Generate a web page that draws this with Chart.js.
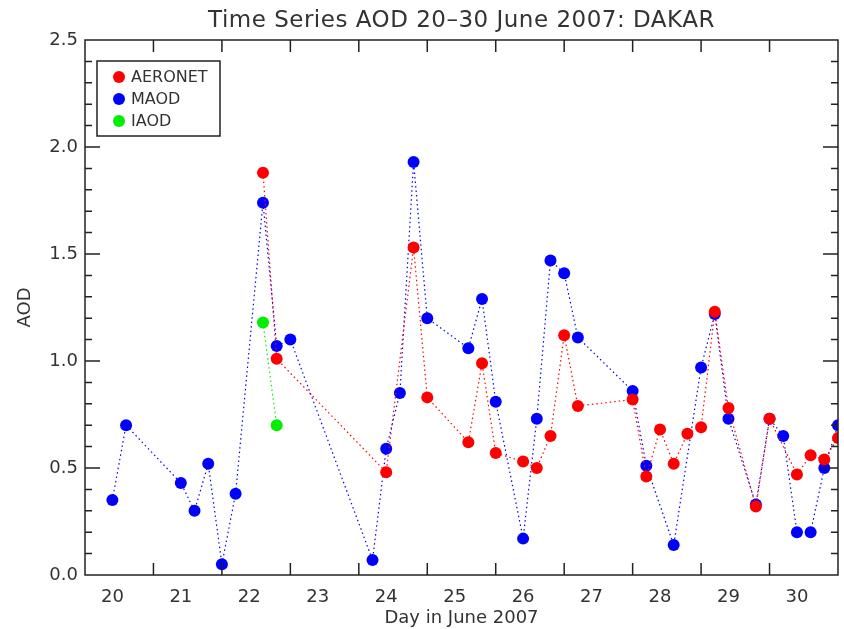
<!DOCTYPE html>
<html>
<head>
<meta charset="utf-8">
<script src="https://cdn.jsdelivr.net/npm/chart.js@4.4.0/dist/chart.umd.min.js"></script>
<style>
  html, body { margin: 0; padding: 0; background: #fff; }
</style>
</head>
<body>
<canvas id="aodChart" width="844" height="629"></canvas>
<script>
// day labels on the x axis, y tick values
const dayLabels = [20, 21, 22, 23, 24, 25, 26, 27, 28, 29, 30];
const aodTicks = [0.0, 0.5, 1.0, 1.5, 2.0, 2.5];

// AERONET
const aeronetDays = [22.2, 22.4, 24.0, 24.4, 24.6, 25.2, 25.4, 25.6, 26.0, 26.2, 26.4, 26.6, 26.8,
    27.6, 27.8, 28.0, 28.2, 28.4, 28.6, 28.8, 29.0, 29.4, 29.6, 30.0, 30.2, 30.4, 30.6];
const aeronetAod = [1.88, 1.01, 0.48, 1.53, 0.83, 0.62, 0.99, 0.57, 0.53, 0.50, 0.65, 1.12, 0.79,
    0.82, 0.46, 0.68, 0.52, 0.66, 0.69, 1.23, 0.78, 0.32, 0.73, 0.47, 0.56, 0.54, 0.64];

// MAOD
const maodDays = [20.0, 20.2, 21.0, 21.2, 21.4, 21.6, 21.8, 22.2, 22.4, 22.6, 23.8, 24.0, 24.2, 24.4,
    24.6, 25.2, 25.4, 25.6, 26.0, 26.2, 26.4, 26.6, 26.8, 27.6, 27.8, 28.2, 28.6, 28.8, 29.0, 29.4,
    29.6, 29.8, 30.0, 30.2, 30.4, 30.6];
const maodAod = [0.35, 0.70, 0.43, 0.30, 0.52, 0.05, 0.38, 1.74, 1.07, 1.10, 0.07, 0.59, 0.85, 1.93,
    1.20, 1.06, 1.29, 0.81, 0.17, 0.73, 1.47, 1.41, 1.11, 0.86, 0.51, 0.14, 0.97, 1.22, 0.73, 0.33,
    0.73, 0.65, 0.20, 0.20, 0.50, 0.70];

// IAOD
const iaodDays = [22.2, 22.4];
const iaodAod = [1.18, 0.70];

const chartTitle = 'Time Series AOD 20–30 June 2007: DAKAR';

const toPoints = (xs, ys) => xs.map((x, i) => ({ x: x, y: ys[i] }));

const FONT = '"DejaVu Sans", sans-serif';
const INK = '#333';

function series(label, color, xs, ys) {
    return {
        label: label,
        data: toPoints(xs, ys),
        borderColor: color,
        backgroundColor: color,
        borderWidth: 1.2,
        borderDash: [1.5, 3],
        pointRadius: 6,
        pointHoverRadius: 6,
        pointBorderWidth: 0,
        tension: 0
    };
}

// IDL style frame with inward tick marks, title, and the boxed legend
const framePlugin = {
    id: 'frame',
    afterDraw(chart) {
        const { ctx, chartArea: a, scales } = chart;
        const xs = scales.x, ys = scales.y;
        ctx.save();
        ctx.strokeStyle = '#222';
        ctx.lineWidth = 1.5;
        ctx.strokeRect(a.left, a.top, a.right - a.left, a.bottom - a.top);
        ctx.beginPath();
        // x ticks sit between the day labels
        for (let k = 1; k < 11; k++) {
            const px = xs.getPixelForValue(xs.min + k);
            ctx.moveTo(px, a.bottom); ctx.lineTo(px, a.bottom - 12);
            ctx.moveTo(px, a.top); ctx.lineTo(px, a.top + 12);
        }
        for (let k = 1; k < 25; k++) {
            const py = ys.getPixelForValue(k / 10);
            const len = k % 5 === 0 ? 15 : 7;
            ctx.moveTo(a.left, py); ctx.lineTo(a.left + len, py);
            ctx.moveTo(a.right, py); ctx.lineTo(a.right - len, py);
        }
        ctx.stroke();

        // title, centred over the plot
        ctx.fillStyle = INK;
        ctx.font = '23px ' + FONT;
        ctx.letterSpacing = '0.5px';
        ctx.textAlign = 'center';
        ctx.textBaseline = 'middle';
        ctx.fillText(chartTitle, (a.left + a.right) / 2, a.top - 19);
        ctx.letterSpacing = '0px';

        // legend box
        const bx = a.left + 12, by = a.top + 21, bw = 123, bh = 75;
        ctx.fillStyle = '#fff';
        ctx.fillRect(bx, by, bw, bh);
        ctx.lineWidth = 1.5;
        ctx.strokeRect(bx, by, bw, bh);
        ctx.font = '16px ' + FONT;
        ctx.textAlign = 'left';
        chart.data.datasets.forEach((ds, i) => {
            const cy = by + 16 + i * 22;
            ctx.fillStyle = ds.borderColor;
            ctx.beginPath();
            ctx.arc(bx + 22, cy, 6, 0, Math.PI * 2);
            ctx.fill();
            ctx.fillStyle = INK;
            ctx.fillText(ds.label, bx + 34, cy + 1);
        });
        ctx.restore();
    }
};

const ctx = document.getElementById('aodChart').getContext('2d');
new Chart(ctx, {
    type: 'line',
    data: {
        datasets: [
            series('AERONET', '#ff0000', aeronetDays, aeronetAod),
            series('MAOD', '#0000ff', maodDays, maodAod),
            series('IAOD', '#00ee00', iaodDays, iaodAod)
        ]
    },
    options: {
        responsive: false,
        animation: false,
        events: [],
        layout: { padding: { left: 0, right: 6, top: 40, bottom: 0 } },
        plugins: {
            legend: { display: false },
            tooltip: { enabled: false },
            title: { display: false }
        },
        scales: {
            x: {
                type: 'linear',
                min: 19.6,
                max: 30.6,
                afterBuildTicks: (s) => { s.ticks = dayLabels.map(v => ({ value: v })); },
                afterFit: (s) => { s.height = 54; },
                grid: { display: false, drawTicks: false },
                border: { display: false },
                ticks: {
                    color: INK,
                    padding: 12,
                    maxRotation: 0,
                    autoSkip: false,
                    font: { family: FONT, size: 18 },
                    callback: (v) => String(v)
                },
                title: {
                    display: true,
                    text: 'Day in June 2007',
                    color: INK,
                    font: { family: FONT, size: 18 },
                    padding: { top: 0, bottom: 0 }
                }
            },
            y: {
                min: 0,
                max: 2.5,
                afterBuildTicks: (s) => { s.ticks = aodTicks.map(v => ({ value: v })); },
                afterFit: (s) => { s.width = 85; },
                grid: { display: false, drawTicks: false },
                border: { display: false },
                ticks: {
                    color: INK,
                    padding: 7,
                    font: { family: FONT, size: 18 },
                    callback: (v) => v.toFixed(1)
                },
                title: {
                    display: true,
                    text: 'AOD',
                    color: INK,
                    font: { family: FONT, size: 18 },
                    padding: { top: 15, bottom: 0 }
                }
            }
        }
    },
    plugins: [framePlugin]
});
</script>
</body>
</html>
